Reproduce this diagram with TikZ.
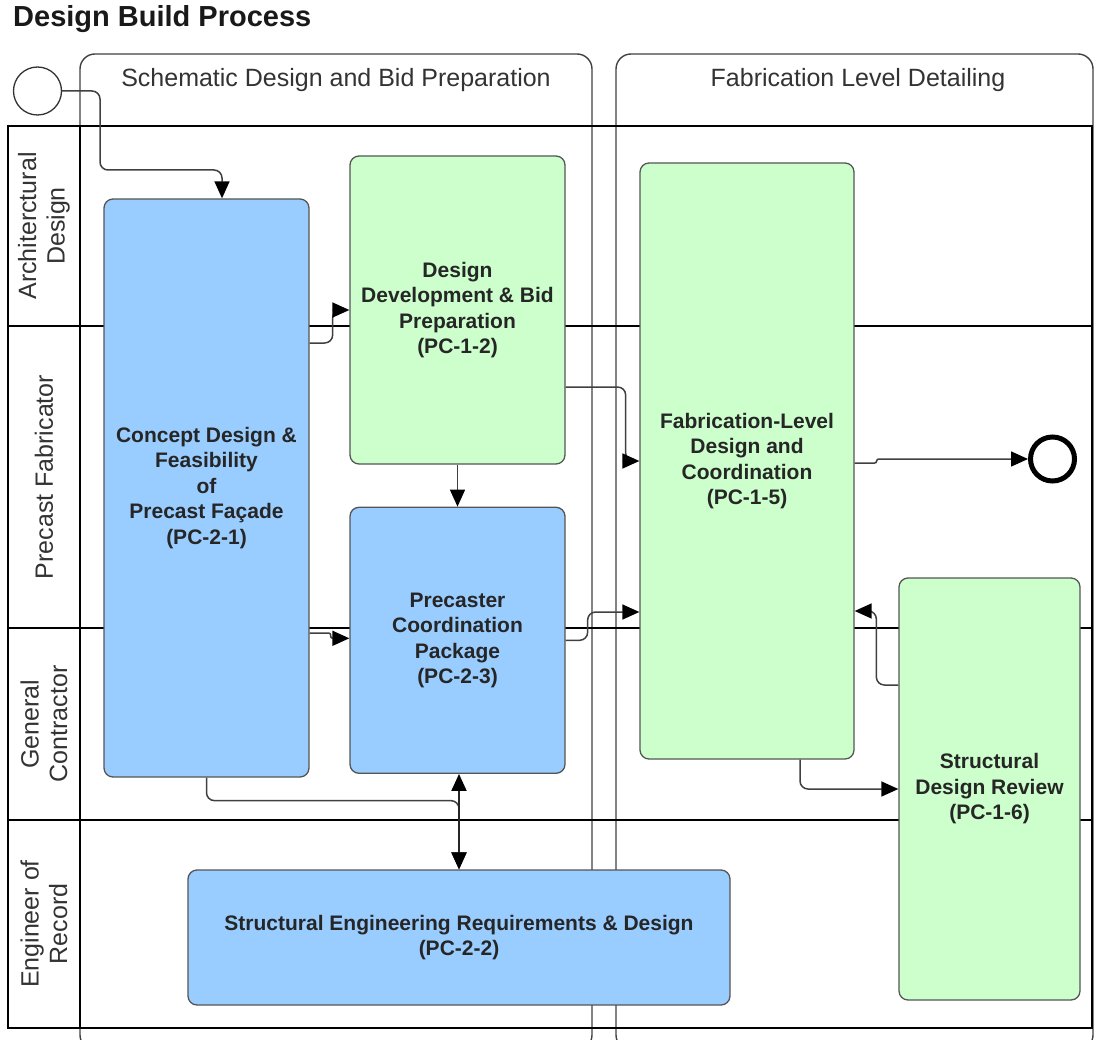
\documentclass[tikz,border=0pt]{standalone}
\usepackage{fontspec}
\setmainfont{Liberation Sans}
\usetikzlibrary{arrows.meta,positioning}
\definecolor{taskblue}{HTML}{99CCFF}
\definecolor{taskgreen}{HTML}{CCFFCC}
\definecolor{edgegray}{HTML}{555555}
\definecolor{labelgray}{HTML}{333333}

\begin{document}
\begin{tikzpicture}[
    x=1pt, y=-1pt,
    % --- node styles ---
    task/.style={
      rectangle, rounded corners=9pt, draw=edgegray, line width=1.3pt,
      align=center, inner sep=2pt, text=black!85,
      font=\fontsize{21}{25.5}\selectfont\bfseries},
    bluetask/.style={task, fill=taskblue},
    greentask/.style={task, fill=taskgreen},
    lanelabel/.style={
      rotate=90, align=center, text=labelgray,
      font=\fontsize{25}{28.5}\selectfont},
    phaselabel/.style={text=labelgray, font=\fontsize{25}{28.5}\selectfont},
    phasebox/.style={draw=black!75, line width=1.4pt, rounded corners=15pt},
    laneline/.style={draw=black, line width=1.3pt},
    event/.style={circle, draw=black!80, fill=white, line width=1.3pt,
      minimum size=48pt, inner sep=0pt},
    endevent/.style={circle, draw=black, fill=white, line width=5pt,
      minimum size=44pt, inner sep=0pt},
    arr/.style={-{Triangle[length=17pt,width=15pt,color=black]},
      line width=1.5pt, draw=black!75, rounded corners=8pt},
    jog/.style={arr, rounded corners=2pt},
    darr/.style={{Triangle[length=17pt,width=15pt,color=black]}-{Triangle[length=17pt,width=15pt,color=black]},
      line width=2pt, draw=black!85},
  ]

  \clip (0,0) rectangle (1094,1040);

  % ============== TITLE ==============
  \node[anchor=base west, inner sep=0pt, text=black!90,
        font=\fontsize{29}{31}\selectfont\bfseries] (title) at (13,27) {Design Build Process};

  % ============== PHASES ==============
  \draw[phasebox] (80,54) rectangle (592,1050);
  \draw[phasebox] (616,54) rectangle (1093,1050);
  \node[phaselabel] (schematic) at (336,80) {Schematic Design and Bid Preparation};
  \node[phaselabel] (fablevel)  at (858,80) {Fabrication Level Detailing};

  % ============== POOL AND LANES ==============
  \draw[laneline] (8,126) rectangle (1092,1028);
  \draw[laneline] (80,126) -- (80,1028);
  \foreach \y in {326,628,820}
    \draw[laneline] (8,\y) -- (1092,\y);

  \node[lanelabel] (archlane)    at (44,226) {Architerctural\\Design};
  \node[lanelabel] (precastlane) at (44,477) {Precast Fabricator};
  \node[lanelabel] (gclane)      at (44,724) {General\\Contractor};
  \node[lanelabel] (eorlane)     at (44,924) {Engineer of\\Record};

  % ============== EVENTS ==============
  \node[event] (start) at (37.5,91) {};
  \node[endevent] (finish) at (1052.5,459) {};

  % ============== TASKS ==============
  \node[bluetask, minimum width=205pt, minimum height=578pt] (concept) at (206.5,488)
    {Concept Design \&\\Feasibility\\of\\Precast Façade\\(PC-2-1)};
  \node[greentask, minimum width=215pt, minimum height=308pt] (devbid) at (457.5,310)
    {Design\\Development \& Bid\\Preparation\\(PC-1-2)};
  \node[bluetask, minimum width=215pt, minimum height=266pt, below=42pt of devbid] (precaster)
    {Precaster\\Coordination\\Package\\(PC-2-3)};
  \node[greentask, minimum width=214pt, minimum height=596pt] (fabdesign) at (747,461)
    {Fabrication-Level\\Design and\\Coordination\\(PC-1-5)};
  \node[greentask, minimum width=181pt, minimum height=422pt] (sdreview) at (989.5,789)
    {Structural\\Design Review\\(PC-1-6)};
  \node[bluetask, minimum width=542pt, minimum height=135pt] (sereq) at (459,937.5)
    {Structural Engineering Requirements \& Design\\(PC-2-2)};

  % ============== ARROWS: sequence flow ==============
  \draw[arr] (start.east) -| (100,170) -| ([xshift=15.5pt]concept.north);
  \draw[arr] ([yshift=145pt]concept.east) -- ++(23,0) |- (devbid.west);
  \draw[arr] (devbid.south) -- (precaster.north);
  \draw[arr] ([yshift=-77pt]devbid.east) -- ++(60,0) |- (fabdesign.west);
  \draw[jog] ([yshift=-145pt]concept.east) -- ++(21,0) |- ([yshift=2pt]precaster.west);
  \draw[arr] (precaster.east) -- ++(22,0) |- ([yshift=-151pt]fabdesign.east -| fabdesign.west);
  \draw[arr] ([yshift=104pt]sdreview.west) -- ++(-22,0) |- ([yshift=-150pt]fabdesign.east);
  \draw[arr] ([xshift=53pt]fabdesign.south) |- (sdreview.west);
  \draw[jog] ([yshift=-2pt]fabdesign.east) -- ++(22,0) |- (finish.west);
  \draw[arr] (concept.south) -- ++(0,23) -| (sereq.north);

  % exchange between coordination package and engineer of record
  \draw[darr] (precaster.south -| sereq.north) -- (sereq.north);

\end{tikzpicture}
\end{document}
